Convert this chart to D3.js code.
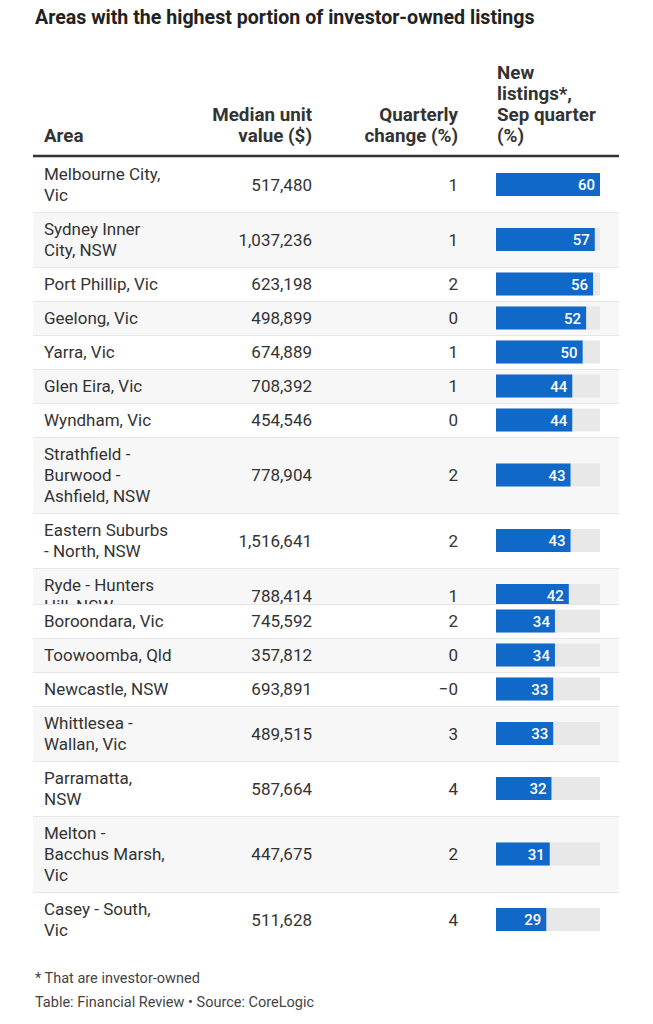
<!DOCTYPE html>
<html>
<head>
<meta charset="utf-8">
<script src="https://cdn.jsdelivr.net/npm/d3@7"></script>
<style>
  html, body { margin: 0; padding: 0; background: #fff; }
  svg { display: block; font-family: Roboto, "Noto Sans", sans-serif; }
</style>
</head>
<body>
<svg id="chart" width="653" height="1024"></svg>
<script>
// ---- data ----
const title = "Areas with the highest portion of investor-owned listings";
const headers = {
  area: ["Area"],
  value: ["Median unit", "value ($)"],
  change: ["Quarterly", "change (%)"],
  listings: ["New", "listings*,", "Sep quarter", "(%)"]
};
const areas = [
  "Melbourne City,\nVic", "Sydney Inner\nCity, NSW", "Port Phillip, Vic", "Geelong, Vic",
  "Yarra, Vic", "Glen Eira, Vic", "Wyndham, Vic", "Strathfield -\nBurwood -\nAshfield, NSW",
  "Eastern Suburbs\n- North, NSW", "Ryde - Hunters\nHill, NSW", "Boroondara, Vic",
  "Toowoomba, Qld", "Newcastle, NSW", "Whittlesea -\nWallan, Vic", "Parramatta,\nNSW",
  "Melton -\nBacchus Marsh,\nVic", "Casey - South,\nVic"
];
const medianValues = [517480, 1037236, 623198, 498899, 674889, 708392, 454546, 778904,
  1516641, 788414, 745592, 357812, 693891, 489515, 587664, 447675, 511628];
const quarterlyChange = [1, 1, 2, 0, 1, 1, 0, 2, 2, 1, 2, 0, -0, 3, 4, 2, 4];
const newListings = [60, 57, 56, 52, 50, 44, 44, 43, 43, 42, 34, 34, 33, 33, 32, 31, 29];
const footnotes = ["* That are investor-owned", "Table: Financial Review \u2022 Source: CoreLogic"];

// ---- layout ----
const svg = d3.select("#chart");
const left = 33, right = 619;
const textX = 44, valueX = 312, changeX = 458, barX = 496, barW = 104, barH = 23;
const lineH = 21, pad = 6.5;
const headTop = 156;
const clippedRow = 9, clippedHeight = 36; // row cut off in the source image

const fmtValue = d3.format(",");
const fmtChange = v => ((v < 0 || Object.is(v, -0)) ? "\u2212" : "") + Math.abs(v);
const x = d3.scaleLinear().domain([0, 60]).range([0, barW]);

// title
svg.append("text").attr("x", 35).attr("y", 24)
  .attr("font-size", 19.6).attr("font-weight", 700).attr("fill", "#222")
  .text(title);

// headers
function headerBlock(lines, xPos, anchor) {
  const t = svg.append("text").attr("text-anchor", anchor)
    .attr("font-size", 18.8).attr("font-weight", 700).attr("fill", "#333");
  const n = lines.length;
  lines.forEach((l, i) => {
    t.append("tspan").attr("x", xPos).attr("y", 141.5 - (n - 1 - i) * lineH).text(l);
  });
}
headerBlock(headers.area, textX, "start");
headerBlock(headers.value, valueX, "end");
headerBlock(headers.change, changeX, "end");
headerBlock(headers.listings, barX + 1, "start");

// rows
const rows = areas.map((a, i) => ({
  lines: a.split("\n"), value: medianValues[i], change: quarterlyChange[i], pct: newListings[i], i
}));
let y0 = headTop + 1;
rows.forEach(r => {
  r.top = y0;
  r.full = pad * 2 + lineH * r.lines.length;
  r.h = r.i === clippedRow ? clippedHeight : r.full;
  r.mid = r.top + r.full / 2;
  y0 += r.h;
});

const defs = svg.append("defs");
rows.forEach(r => {
  defs.append("clipPath").attr("id", "clip" + r.i)
    .append("rect").attr("x", 0).attr("y", r.top).attr("width", 653).attr("height", r.h);
});

const g = svg.selectAll("g.row").data(rows).join("g").attr("class", "row")
  .attr("clip-path", d => `url(#clip${d.i})`);

g.append("rect").attr("x", left).attr("y", d => d.top).attr("width", right - left)
  .attr("height", d => d.h).attr("fill", d => d.i % 2 ? "#f7f7f7" : "#ffffff");
g.filter(d => d.i > 0).append("line")
  .attr("x1", left).attr("x2", right).attr("y1", d => d.top + 0.5).attr("y2", d => d.top + 0.5)
  .attr("stroke", "#e6e6e6").attr("stroke-width", 1);

g.each(function (d) {
  const t = d3.select(this).append("text").attr("font-size", 17).attr("fill", "#333");
  d.lines.forEach((l, k) => {
    t.append("tspan").attr("x", textX).attr("y", d.top + pad + lineH * k + 16.5).text(l);
  });
});
g.append("text").attr("x", valueX).attr("y", d => d.mid + 6).attr("text-anchor", "end")
  .attr("font-size", 17).attr("fill", "#333").text(d => fmtValue(d.value));
g.append("text").attr("x", changeX).attr("y", d => d.mid + 6).attr("text-anchor", "end")
  .attr("font-size", 17).attr("fill", "#333").text(d => fmtChange(d.change));

g.append("rect").attr("x", barX).attr("y", d => d.mid - barH / 2)
  .attr("width", x(60)).attr("height", barH).attr("fill", "#e8e8e8");
g.append("rect").attr("x", barX).attr("y", d => d.mid - barH / 2)
  .attr("width", d => x(d.pct)).attr("height", barH).attr("fill", "#1068c9");
g.append("text").attr("x", d => barX + x(d.pct) - 5).attr("y", d => d.mid + 5.5)
  .attr("text-anchor", "end").attr("font-size", 15).attr("font-weight", 500)
  .attr("fill", "#fff").text(d => d.pct);

// header rule
svg.append("line").attr("x1", left).attr("x2", right).attr("y1", headTop).attr("y2", headTop)
  .attr("stroke", "#333").attr("stroke-width", 2.5);

// footnotes
footnotes.forEach((f, i) => {
  svg.append("text").attr("x", 35).attr("y", 983 + i * 23.5)
    .attr("font-size", 14.5).attr("fill", "#444").text(f);
});
</script>
</body>
</html>
